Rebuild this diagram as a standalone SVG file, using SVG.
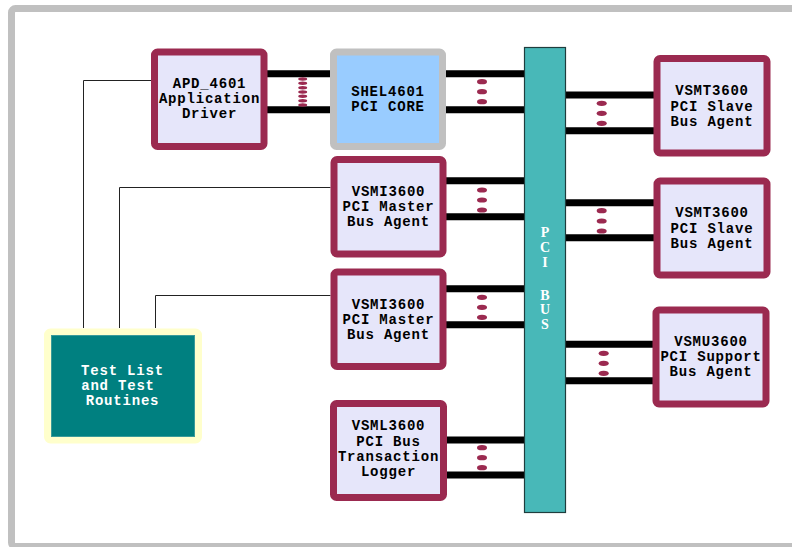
<svg xmlns="http://www.w3.org/2000/svg" width="792" height="547" viewBox="0 0 792 547">
<style>
.node{fill:#e6e6fa;stroke:#9b2a50;stroke-width:7}
.lbl{font-family:"Liberation Mono",monospace;font-weight:bold;font-size:14px;letter-spacing:0.8px;fill:#000;text-anchor:middle}
.bar{stroke:#000;stroke-width:7;fill:none}
.dot{fill:#9b2a50}
.thin{stroke:#222;stroke-width:1;fill:none}
</style>
<rect x="0" y="0" width="792" height="547" fill="#ffffff"/>
<rect x="11.5" y="8.5" width="800" height="538" rx="4" fill="#ffffff" stroke="#c0c0c0" stroke-width="7"/>

<g id="connectors">
  <path class="thin" d="M151 80.5H83.5V328"/>
  <path class="thin" d="M330.5 187.5H119.5V328"/>
  <path class="thin" d="M330.5 295.5H155.5V328"/>
  <path class="bar" d="M267 73.7H330M267 109.7H330"/>
  <path class="bar" d="M446 73.7H525M446 109.7H525"/>
  <path class="bar" d="M446 180.7H525M446 216.7H525"/>
  <path class="bar" d="M446 288.7H525M446 324.7H525"/>
  <path class="bar" d="M446 440H525M446 475H525"/>
  <path class="bar" d="M565 95H654M565 130.7H654"/>
  <path class="bar" d="M565 202.7H654M565 237.7H654"/>
  <path class="bar" d="M565 344.3H653M565 380.7H653"/>
  <g class="dot">
    <ellipse cx="302.7" cy="79" rx="4.5" ry="1.7"/>
    <ellipse cx="302.7" cy="83.3" rx="4.5" ry="1.7"/>
    <ellipse cx="302.7" cy="87.7" rx="4.5" ry="1.7"/>
    <ellipse cx="302.7" cy="92" rx="4.5" ry="1.7"/>
    <ellipse cx="302.7" cy="96.3" rx="4.5" ry="1.7"/>
    <ellipse cx="302.7" cy="100.7" rx="4.5" ry="1.7"/>
    <ellipse cx="302.7" cy="105" rx="4.5" ry="1.7"/>
    <ellipse cx="482" cy="81.7" rx="5" ry="2.6"/>
    <ellipse cx="482" cy="91.7" rx="5" ry="2.6"/>
    <ellipse cx="482" cy="101.7" rx="5" ry="2.6"/>
    <ellipse cx="482" cy="190" rx="5" ry="2.6"/>
    <ellipse cx="482" cy="200" rx="5" ry="2.6"/>
    <ellipse cx="482" cy="210" rx="5" ry="2.6"/>
    <ellipse cx="482" cy="297.3" rx="5" ry="2.6"/>
    <ellipse cx="482" cy="307.3" rx="5" ry="2.6"/>
    <ellipse cx="482" cy="317.3" rx="5" ry="2.6"/>
    <ellipse cx="482" cy="447.7" rx="5" ry="2.6"/>
    <ellipse cx="482" cy="457.7" rx="5" ry="2.6"/>
    <ellipse cx="482" cy="467.7" rx="5" ry="2.6"/>
    <ellipse cx="601.7" cy="103.3" rx="5" ry="2.6"/>
    <ellipse cx="601.7" cy="113.3" rx="5" ry="2.6"/>
    <ellipse cx="601.7" cy="123.3" rx="5" ry="2.6"/>
    <ellipse cx="601.7" cy="210.7" rx="5" ry="2.6"/>
    <ellipse cx="601.7" cy="221" rx="5" ry="2.6"/>
    <ellipse cx="601.7" cy="231" rx="5" ry="2.6"/>
    <ellipse cx="603.7" cy="353.3" rx="5" ry="2.6"/>
    <ellipse cx="603.7" cy="363.3" rx="5" ry="2.6"/>
    <ellipse cx="603.7" cy="373.3" rx="5" ry="2.6"/>
  </g>
</g>

<g id="pci-bus">
  <rect x="524.5" y="47.5" width="41" height="465" fill="#48b8b8" stroke="#1f3d3d" stroke-width="1.2"/>
  <g font-family="Liberation Serif, serif" font-weight="bold" font-size="14" fill="#ffffff" text-anchor="middle">
    <text x="545" y="237">P</text>
    <text x="545" y="252">C</text>
    <text x="545" y="267">I</text>
    <text x="545" y="300">B</text>
    <text x="545" y="314">U</text>
    <text x="545" y="329">S</text>
  </g>
</g>

<g id="apd4601">
  <rect class="node" x="154.5" y="52" width="109.5" height="94.5" rx="3"/>
  <text class="lbl" x="209.5" y="88">APD_4601</text>
  <text class="lbl" x="209.5" y="103">Application</text>
  <text class="lbl" x="209.5" y="118">Driver</text>
</g>

<g id="shel4601">
  <rect x="333.5" y="52" width="109" height="94.5" rx="3" fill="#99ccff" stroke="#c0c0c0" stroke-width="7"/>
  <text class="lbl" x="388" y="96">SHEL4601</text>
  <text class="lbl" x="388" y="111">PCI CORE</text>
</g>

<g id="vsmi1">
  <rect class="node" x="334" y="159.5" width="109" height="94.5" rx="3"/>
  <text class="lbl" x="388.5" y="196">VSMI3600</text>
  <text class="lbl" x="388.5" y="211">PCI Master</text>
  <text class="lbl" x="388.5" y="226">Bus Agent</text>
</g>

<g id="vsmi2">
  <rect class="node" x="334" y="272" width="109" height="94.5" rx="3"/>
  <text class="lbl" x="388.5" y="308.5">VSMI3600</text>
  <text class="lbl" x="388.5" y="323.5">PCI Master</text>
  <text class="lbl" x="388.5" y="338.5">Bus Agent</text>
</g>

<g id="vsml">
  <rect class="node" x="333.5" y="403.5" width="110" height="94" rx="3"/>
  <text class="lbl" x="388.5" y="430">VSML3600</text>
  <text class="lbl" x="388.5" y="446">PCI Bus</text>
  <text class="lbl" x="388.5" y="461">Transaction</text>
  <text class="lbl" x="388.5" y="476">Logger</text>
</g>

<g id="vsmt1">
  <rect class="node" x="657" y="58.5" width="110" height="94.5" rx="3"/>
  <text class="lbl" x="712" y="95">VSMT3600</text>
  <text class="lbl" x="712" y="110.5">PCI Slave</text>
  <text class="lbl" x="712" y="125.5">Bus Agent</text>
</g>

<g id="vsmt2">
  <rect class="node" x="657" y="181" width="110" height="94" rx="3"/>
  <text class="lbl" x="712" y="217">VSMT3600</text>
  <text class="lbl" x="712" y="232.5">PCI Slave</text>
  <text class="lbl" x="712" y="247.5">Bus Agent</text>
</g>

<g id="vsmu">
  <rect class="node" x="656" y="310" width="110" height="94" rx="3"/>
  <text class="lbl" x="711" y="346">VSMU3600</text>
  <text class="lbl" x="711" y="361">PCI Support</text>
  <text class="lbl" x="711" y="376">Bus Agent</text>
</g>

<g id="test-list">
  <rect x="47.5" y="332" width="151" height="108" rx="3" fill="#008080" stroke="#ffffcc" stroke-width="7"/>
  <rect x="51.5" y="335.5" width="143" height="101" fill="none" stroke="#3a9a9a" stroke-width="1"/>
  <text class="lbl" x="122.5" y="375" style="fill:#ffffff">Test List</text>
  <text class="lbl" x="118" y="390" style="fill:#ffffff">and Test</text>
  <text class="lbl" x="122.5" y="405" style="fill:#ffffff">Routines</text>
</g>
</svg>
